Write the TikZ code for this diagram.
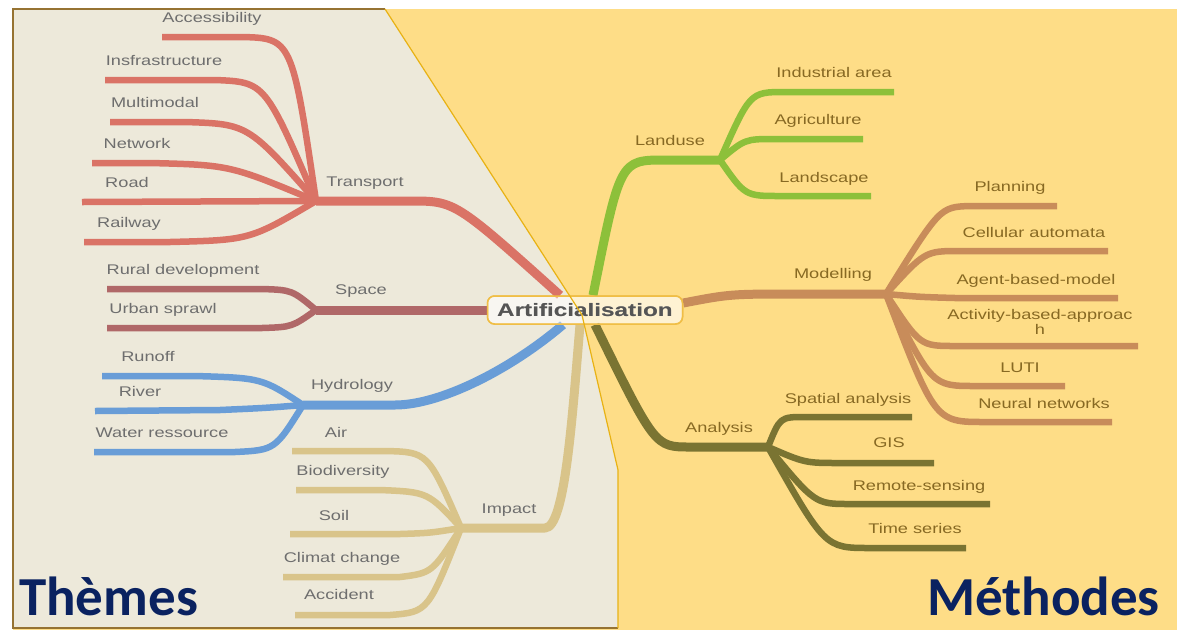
\documentclass[tikz,border=0pt]{standalone}
\usepackage{fontspec}
\setmainfont{Liberation Sans}
\newfontfamily\titlefont{Carlito}
\usepackage{graphicx}
\usetikzlibrary{calc, positioning}

\definecolor{bgbeige}{RGB}{237,233,218}
\definecolor{bgyellow}{RGB}{254,221,135}
\definecolor{edgebrown}{RGB}{150,115,50}
\definecolor{edgegold}{RGB}{232,178,20}
\definecolor{ctr}{RGB}{218,115,102}
\definecolor{csp}{RGB}{176,104,104}
\definecolor{chy}{RGB}{105,157,215}
\definecolor{cim}{RGB}{217,196,138}
\definecolor{clu}{RGB}{141,192,58}
\definecolor{cmo}{RGB}{200,140,90}
\definecolor{can}{RGB}{122,116,50}
\definecolor{txtgray}{RGB}{110,110,110}
\definecolor{txtbrown}{RGB}{135,105,35}
\definecolor{nodetext}{RGB}{85,85,85}
\definecolor{nodegold}{RGB}{240,190,70}
\definecolor{titleblue}{RGB}{10,34,96}

\newcommand{\sx}[1]{\scalebox{1.3}[1]{#1}}

\begin{document}
\begin{tikzpicture}[x=1pt, y=-1pt]

    \tikzset
    {
        lbl/.style={anchor=base, inner sep=0pt, text=txtgray, font={\fontsize{14}{13}\selectfont}},
        rlbl/.style={lbl, text=txtbrown},
        leaf/.style={line width=6.5pt, line join=round},
        trunk/.style={line width=9pt, line join=round},
        corenode/.style={rounded corners=7pt, draw=nodegold, line width=1.5pt, fill=white, fill opacity=0.4, text opacity=1, minimum width=195pt, minimum height=28pt, inner sep=0pt, text=nodetext, font={\bfseries\fontsize{18}{18}\selectfont}},
        bigtitle/.style={inner sep=0pt, text depth=0pt, text=titleblue, font={\titlefont\bfseries\fontsize{55}{55}\selectfont}}
    }

    \useasboundingbox (0,0) rectangle (1177,630);
    \fill[white] (0,0) rectangle (1177,630);
    \fill[bgyellow] (13,9) rectangle (1177,630);
    \fill[bgbeige] (13,9) -- (385,9) -- (582,315) -- (618,470) -- (618,628) -- (13,628) -- cycle;
    \draw[edgebrown, line width=1.2pt] (385,9) -- (13,9) -- (13,628) -- (618,628);

    \node[corenode] (C) at (585,310) {\scalebox{1.35}[1]{Artificialisation}};

    \coordinate (trhub) at (316,201);
    \coordinate (sphub) at (316,310);
    \coordinate (hyhub) at (303,405);
    \coordinate (imhub) at (461,528);
    \coordinate (luhub) at (720,160);
    \coordinate (mohub) at (886,294);
    \coordinate (anhub) at (768,447);

    \draw[trunk, ctr] (trhub) -- (410,201) .. controls (455,201) and (455,201) .. ($(C.north)+(-25,0)$);
    \draw[trunk, csp] (sphub) -- (C.west);
    \draw[trunk, chy] (hyhub) -- (395,405) .. controls (440,405) and (510,370) .. ($(C.south)+(-22,0)$);
    \draw[trunk, cim] (imhub) -- (545,528) .. controls (565,528) and (572,420) .. ($(C.south)+(-5,0)$);
    \draw[trunk, clu] ($(C.north)+(8,0)$) .. controls (620,160) and (620,160) .. (665,160) -- (luhub);
    \draw[trunk, cmo] ($(C.east)+(0,-7)$) .. controls (730,294) .. (800,294) -- (mohub);
    \draw[trunk, can] ($(C.south)+(10,0)$) .. controls (655,447) and (655,447) .. (690,447) -- (anhub);

    \coordinate (acc-e) at (162,37);
    \coordinate (inf-e) at (105,80);
    \coordinate (mul-e) at (110,122);
    \coordinate (net-e) at (92,163);
    \coordinate (road-e) at (82,202);
    \coordinate (rail-e) at (84,242);
    \draw[leaf, ctr] (acc-e) -- (240,37) .. controls (292,38) and (292,38) .. (trhub);
    \draw[leaf, ctr] (inf-e) -- (215,80) .. controls (265,82) and (265,82) .. (trhub);
    \draw[leaf, ctr] (mul-e) -- (185,122) .. controls (248,124) and (248,124) .. (trhub);
    \draw[leaf, ctr] (net-e) -- (150,163) .. controls (230,165) and (230,165) .. (trhub);
    \draw[leaf, ctr] (road-e) -- (trhub);
    \draw[leaf, ctr] (rail-e) -- (170,242) .. controls (250,240) and (250,240) .. (trhub);

    \coordinate (rur-e) at (107,289);
    \coordinate (urb-e) at (107,328);
    \draw[leaf, csp] (rur-e) -- (262,289) .. controls (292,290) and (292,290) .. (sphub);
    \draw[leaf, csp] (urb-e) -- (262,328) .. controls (292,327) and (292,327) .. (sphub);

    \coordinate (run-e) at (102,376);
    \coordinate (riv-e) at (95,411);
    \coordinate (wat-e) at (94,452);
    \draw[leaf, chy] (run-e) -- (195,376) .. controls (262,378) and (262,378) .. (hyhub);
    \draw[leaf, chy] (riv-e) -- (220,410) .. controls (265,408) and (265,408) .. (hyhub);
    \draw[leaf, chy] (wat-e) -- (235,452) .. controls (275,450) and (275,450) .. (hyhub);

    \coordinate (air-e) at (292,451);
    \coordinate (bio-e) at (296,490);
    \coordinate (soil-e) at (290,534);
    \coordinate (cli-e) at (283,577);
    \coordinate (accd-e) at (295,615);
    \draw[leaf, cim] (air-e) -- (385,451) .. controls (428,452) and (428,452) .. (imhub);
    \draw[leaf, cim] (bio-e) -- (380,490) .. controls (428,492) and (428,492) .. (imhub);
    \draw[leaf, cim] (soil-e) -- (400,534) .. controls (430,533) and (430,533) .. (imhub);
    \draw[leaf, cim] (cli-e) -- (400,577) .. controls (432,573) and (432,573) .. (imhub);
    \draw[leaf, cim] (accd-e) -- (390,615) .. controls (428,612) and (428,612) .. (imhub);

    \coordinate (ind-e) at (894,92);
    \coordinate (agr-e) at (863,139);
    \coordinate (lsc-e) at (871,196);
    \draw[leaf, clu] (luhub) .. controls (750,92) and (750,92) .. (785,92) -- (ind-e);
    \draw[leaf, clu] (luhub) .. controls (745,139) and (745,139) .. (775,139) -- (agr-e);
    \draw[leaf, clu] (luhub) .. controls (745,196) and (745,196) .. (780,196) -- (lsc-e);

    \coordinate (pla-e) at (1057,206);
    \coordinate (cel-e) at (1108,251);
    \coordinate (agt-e) at (1118,298);
    \coordinate (act-e) at (1138,346);
    \coordinate (luti-e) at (1065,386);
    \coordinate (neu-e) at (1112,422);
    \draw[leaf, cmo] (mohub) .. controls (940,207) and (940,207) .. (970,206) -- (pla-e);
    \draw[leaf, cmo] (mohub) .. controls (925,251) and (925,251) .. (960,251) -- (cel-e);
    \draw[leaf, cmo] (mohub) .. controls (920,297) and (920,297) .. (955,298) -- (agt-e);
    \draw[leaf, cmo] (mohub) .. controls (920,346) and (920,346) .. (955,346) -- (act-e);
    \draw[leaf, cmo] (mohub) .. controls (932,386) and (932,386) .. (975,386) -- (luti-e);
    \draw[leaf, cmo] (mohub) .. controls (935,422) and (935,422) .. (985,422) -- (neu-e);

    \coordinate (spa-e) at (912,417);
    \coordinate (gis-e) at (934,463);
    \coordinate (rem-e) at (990,504);
    \coordinate (tim-e) at (966,548);
    \draw[leaf, can] (anhub) .. controls (780,417) and (780,417) .. (805,417) -- (spa-e);
    \draw[leaf, can] (anhub) .. controls (805,463) and (805,463) .. (840,463) -- (gis-e);
    \draw[leaf, can] (anhub) .. controls (815,504) and (815,504) .. (850,504) -- (rem-e);
    \draw[leaf, can] (anhub) .. controls (825,548) and (825,548) .. (870,548) -- (tim-e);

    \node[corenode] at (C) {\scalebox{1.35}[1]{Artificialisation}};
    \draw[edgegold, line width=1.2pt] (385,9) -- (582,315) -- (618,470) -- (618,628);

    \node[lbl] (transport) at (365,186) {\sx{Transport}};
    \node[lbl] (acc) at (212,22) {\sx{Accessibility}};
    \node[lbl] (inf) at (164,65) {\sx{Insfrastructure}};
    \node[lbl] (mul) at (155,107) {\sx{Multimodal}};
    \node[lbl] (net) at (137,148) {\sx{Network}};
    \node[lbl] (road) at (127,187) {\sx{Road}};
    \node[lbl] (rail) at (129,227) {\sx{Railway}};
    \node[lbl] (space) at (361,294) {\sx{Space}};
    \node[lbl] (rur) at (183,274) {\sx{Rural development}};
    \node[lbl] (urb) at (163,313) {\sx{Urban sprawl}};
    \node[lbl] (hydro) at (352,389) {\sx{Hydrology}};
    \node[lbl] (run) at (148,361) {\sx{Runoff}};
    \node[lbl] (riv) at (140,396) {\sx{River}};
    \node[lbl] (wat) at (162,437) {\sx{Water ressource}};
    \node[lbl] (impact) at (509,513) {\sx{Impact}};
    \node[lbl] (air) at (336,437) {\sx{Air}};
    \node[lbl] (bio) at (343,475) {\sx{Biodiversity}};
    \node[lbl] (soil) at (334,520) {\sx{Soil}};
    \node[lbl] (cli) at (342,562) {\sx{Climat change}};
    \node[lbl] (accd) at (339,599) {\sx{Accident}};

    \node[rlbl] (landuse) at (670,145) {\sx{Landuse}};
    \node[rlbl] (ind) at (834,77) {\sx{Industrial area}};
    \node[rlbl] (agr) at (818,124) {\sx{Agriculture}};
    \node[rlbl] (lsc) at (824,182) {\sx{Landscape}};
    \node[rlbl] (modelling) at (833,278) {\sx{Modelling}};
    \node[rlbl] (pla) at (1010,191) {\sx{Planning}};
    \node[rlbl] (cel) at (1034,237) {\sx{Cellular automata}};
    \node[rlbl] (agt) at (1036,284) {\sx{Agent-based-model}};
    \node[rlbl, align=center] (act) at (1040,334) {\sx{Activity-based-approac}\\\sx{h}};
    \node[rlbl] (luti) at (1020,372) {\sx{LUTI}};
    \node[rlbl] (neu) at (1044,408) {\sx{Neural networks}};
    \node[rlbl] (analysis) at (719,432) {\sx{Analysis}};
    \node[rlbl] (spa) at (848,403) {\sx{Spatial analysis}};
    \node[rlbl] (gis) at (889,447) {\sx{GIS}};
    \node[rlbl] (rem) at (919,490) {\sx{Remote-sensing}};
    \node[rlbl] (tim) at (915,533) {\sx{Time series}};

    \node[bigtitle, anchor=base west] (themes) at (19,615) {Thèmes};
    \node[bigtitle, anchor=base east] (methodes) at (1160,615) {Méthodes};

\end{tikzpicture}
\end{document}
